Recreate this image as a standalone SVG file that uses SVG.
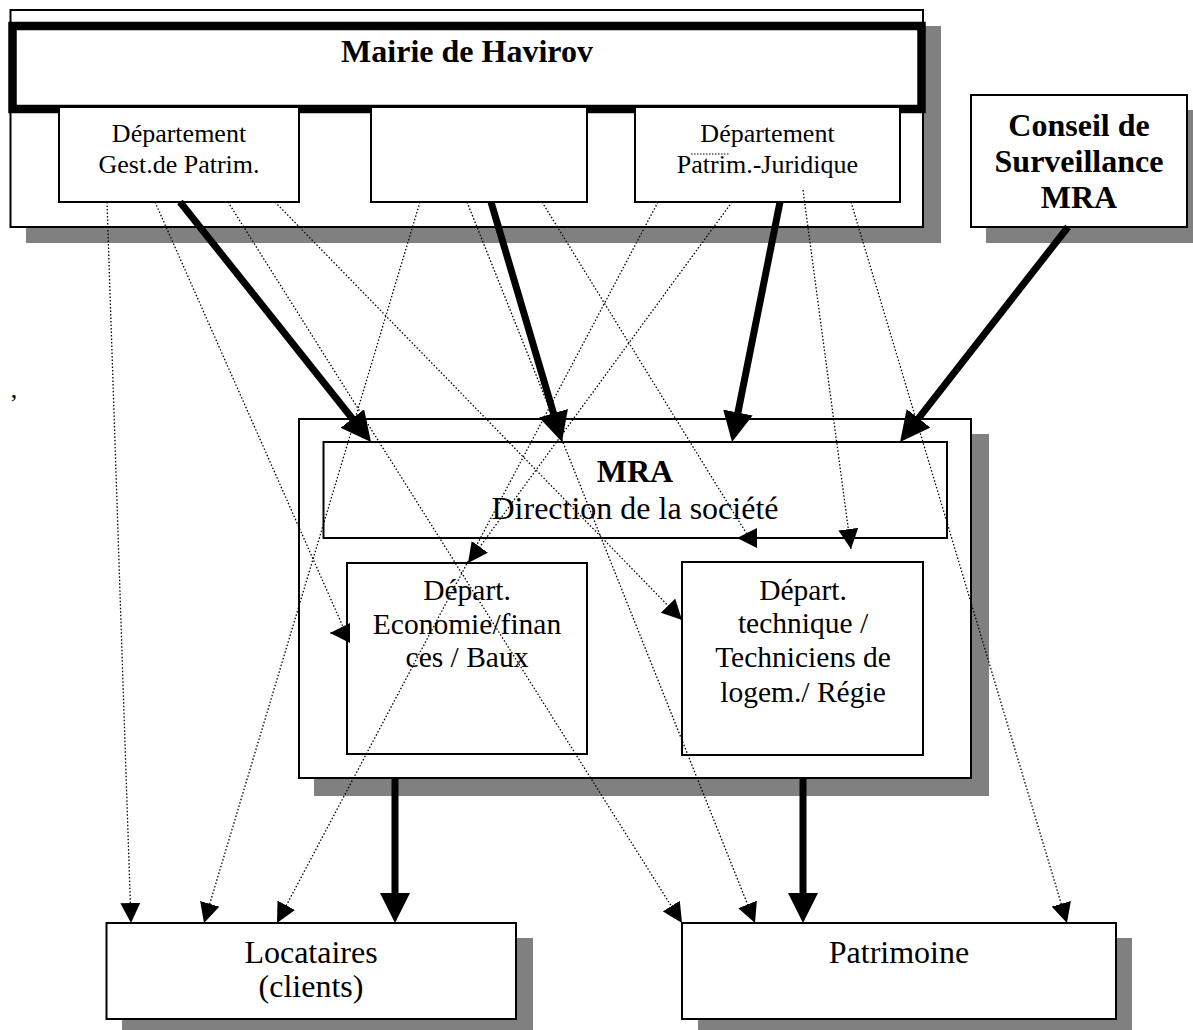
<svg xmlns="http://www.w3.org/2000/svg" width="1193" height="1030" viewBox="0 0 1193 1030">
<style>
.box{fill:#fff;stroke:#000;stroke-width:2}
.shadow{fill:#808080;stroke:none}
.t{font-family:"Liberation Serif","Times New Roman",serif;fill:#000;text-anchor:middle}
.b{font-weight:bold;font-size:32px}
.r32{font-size:32px}
.r26{font-size:26px}
.r29{font-size:29.5px}
.thick{fill:none;stroke:#000;stroke-width:7;marker-end:url(#ah)}
.dot{fill:none;stroke:#000;stroke-width:1.3;stroke-dasharray:1.5 2;marker-end:url(#dh)}
</style>
<defs>
<marker id="ah" markerUnits="userSpaceOnUse" viewBox="0 0 30 30" markerWidth="30" markerHeight="30" refX="20" refY="15" orient="auto">
<path d="M0,0 L30,15 L0,30 z" fill="#000"/>
</marker>
<marker id="dh" markerUnits="userSpaceOnUse" viewBox="0 0 20 20" markerWidth="20" markerHeight="20" refX="20" refY="10" orient="auto">
<path d="M0,0 L20,10 L0,20 z" fill="#000"/>
</marker>
</defs>
<rect width="1193" height="1030" fill="#fff"/>

<g id="mairie">
<rect class="shadow" x="26" y="26" width="915" height="217"/>
<rect class="box" x="10.5" y="10" width="912.5" height="217"/>
<rect x="12.5" y="26" width="909" height="83" fill="#fff" stroke="#000" stroke-width="8.5"/>
<text class="t b" x="467" y="62">Mairie de Havirov</text>
</g>

<g id="dept-gest">
<rect class="box" x="59" y="107" width="240" height="95"/>
<text class="t r26" x="179" y="142">Département</text>
<text class="t r26" x="179" y="173">Gest.de Patrim.</text>
</g>

<g id="dept-middle">
<rect class="box" x="371" y="107" width="216" height="95"/>
</g>

<g id="dept-juridique">
<rect class="box" x="635" y="107" width="265" height="95"/>
<text class="t r26" x="767.5" y="142">Département</text>
<text class="t r26" x="767.5" y="173">Patrim.-Juridique</text>
<line x1="691" y1="154" x2="729" y2="154" stroke="#000" stroke-width="1.2" stroke-dasharray="1.5 1.5"/>
</g>

<g id="conseil">
<rect class="shadow" x="986" y="110" width="218" height="133"/>
<rect class="box" x="971" y="95" width="216" height="132"/>
<text class="t b" x="1079" y="136">Conseil de</text>
<text class="t b" x="1079" y="172">Surveillance</text>
<text class="t b" x="1079" y="208">MRA</text>
</g>

<g id="mra">
<rect class="shadow" x="314" y="434" width="675" height="362"/>
<rect class="box" x="299" y="419" width="672" height="359"/>
</g>

<g id="direction">
<rect class="box" x="323.5" y="442" width="623.5" height="96"/>
<text class="t b" x="635" y="482">MRA</text>
<text class="t r32" x="635" y="519">Direction de la société</text>
</g>

<g id="dept-economie">
<rect class="box" x="347" y="563" width="240" height="191"/>
<text class="t r29" x="467" y="600">Départ.</text>
<text class="t r29" x="467" y="634">Economie/finan</text>
<text class="t r29" x="467" y="667">ces / Baux</text>
</g>

<g id="dept-technique">
<rect class="box" x="682" y="562" width="241" height="193"/>
<text class="t r29" x="803" y="600">Départ.</text>
<text class="t r29" x="803" y="633">technique /</text>
<text class="t r29" x="803" y="667">Techniciens de</text>
<text class="t r29" x="803" y="702">logem./ Régie</text>
</g>

<g id="locataires">
<rect class="shadow" x="122" y="938" width="411" height="97"/>
<rect class="box" x="106.5" y="923" width="409.5" height="96"/>
<text class="t r32" x="311" y="963">Locataires</text>
<text class="t r32" x="311" y="997">(clients)</text>
</g>

<g id="patrimoine">
<rect class="shadow" x="698" y="938" width="434" height="97"/>
<rect class="box" x="682" y="923" width="434" height="96"/>
<text class="t r32" x="899" y="963">Patrimoine</text>
</g>

<text class="t r26" x="14" y="398">,</text>

<g id="connectors">
<path class="thick" d="M180,202 L364.8,434.2"/>
<path class="thick" d="M491,202 L559.2,432.4"/>
<path class="thick" d="M780,202 L734,432.2"/>
<path class="thick" d="M1068,227 L906.2,434.1"/>
<path class="thick" d="M395,778 L395,913"/>
<path class="thick" d="M803,778 L803,913"/>

<path class="dot" d="M107,202 L131,923"/>
<path class="dot" d="M155,202 L344,629 L344,633 L330,633"/>
<path class="dot" d="M228,202 L682,923"/>
<path class="dot" d="M275,202 L682,620"/>
<path class="dot" d="M420,202 L204,923"/>
<path class="dot" d="M467,202 L755,923"/>
<path class="dot" d="M542,202 L748,536 L748,538 L737,538"/>
<path class="dot" d="M658,202 L277,923"/>
<path class="dot" d="M732,202 L468,563"/>
<path class="dot" d="M803,190 L851,549"/>
<path class="dot" d="M851,202 L1067,923"/>
</g>
</svg>
